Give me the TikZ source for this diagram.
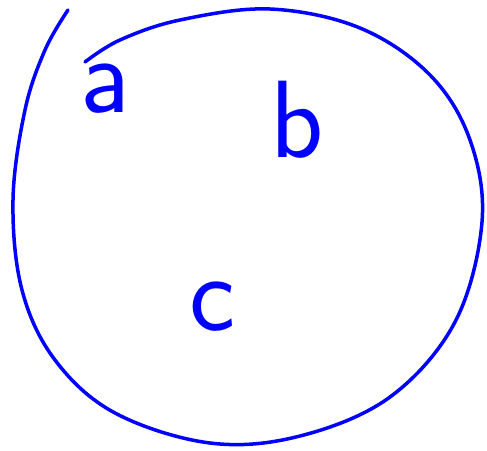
\documentclass[tikz,border=0pt]{standalone}
\usepackage{fontspec}
\begin{document}
\begin{tikzpicture}[x=1pt,y=-1pt]
      \useasboundingbox (0,0) rectangle (487,450);
      \tikzset{letter/.style={text=blue,anchor=base,inner sep=0pt,
          font=\sffamily\fontsize{110}{110}\selectfont}}

      % the loop round the letters
      \draw[blue,line width=3.5pt,line cap=round] plot[smooth,tension=0.6]
        coordinates{(68,10) (45,50) (25,110) (13,200) (22,290) (55,360)
          (115,413) (210,443) (300,436) (390,397) (455,322) (482,222)
          (470,140) (430,75) (360,28) (270,9) (180,20) (120,40) (85,62)};

      % letters
      \node[letter] (a) at (105,112) {a};
      \node[letter] (b) at (297,157) {b};
      \node[letter] (c) at (212,330) {c};

    \end{tikzpicture}
\end{document}
